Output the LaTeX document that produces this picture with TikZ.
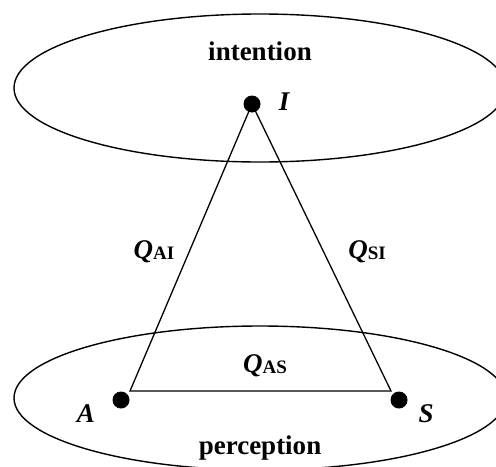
\documentclass[tikz,border=0pt]{standalone}
\usepackage{fontspec}
\setmainfont{Liberation Serif}
\usetikzlibrary{positioning}
\newcommand\qlab[2]{\textit{#1}\raisebox{-0.1ex}{\fontsize{9.5}{10}\selectfont #2}}

\begin{document}
\begin{tikzpicture}[
        x=0.5pt, y=-0.5pt,
        dot/.style={
            circle,
            fill,
            inner sep=0pt,
            minimum size=8.5pt
        },
        txt/.style={
            inner sep=0pt,
            font=\fontsize{13.5}{16}\selectfont\bfseries
        },
        var/.style={txt, font=\fontsize{13.5}{16}\selectfont\bfseries\itshape},
        layer/.style={line width=0.7pt},
        side/.style={line width=0.65pt}
    ]

    \useasboundingbox (0,0) rectangle (496,466);
    \clip (0,0) rectangle (496,466);

    % the two layers
    \draw[layer] (260,88) ellipse [x radius=123pt, y radius=37pt];
    \draw[layer] (260,398) ellipse [x radius=123pt, y radius=36pt];
    \node[txt] (intention) at (260,51) {intention};
    \node[txt] (perception) at (260,448) {perception};

    \node[dot] (I) at (252,104) {};
    \node[dot] (A) at (121,400) {};
    \node[dot] (S) at (399,400) {};
    \node[var] (Ilab) at (284,102) {I};
    \node[var] (Alab) at (86,414) {A};
    \node[var] (Slab) at (426,414) {S};

    \coordinate (AI) at (130,391);
    \coordinate (SI) at (391,391);
    \draw[side] (AI) -- (I.center) -- (SI) -- cycle;

    \node[txt] (qai) at (154,252) {\qlab{Q}{AI}};
    \node[txt] (qsi) at (367,252) {\qlab{Q}{SI}};
    \node[txt] (qas) at (265,366) {\qlab{Q}{AS}};

\end{tikzpicture}
\end{document}
